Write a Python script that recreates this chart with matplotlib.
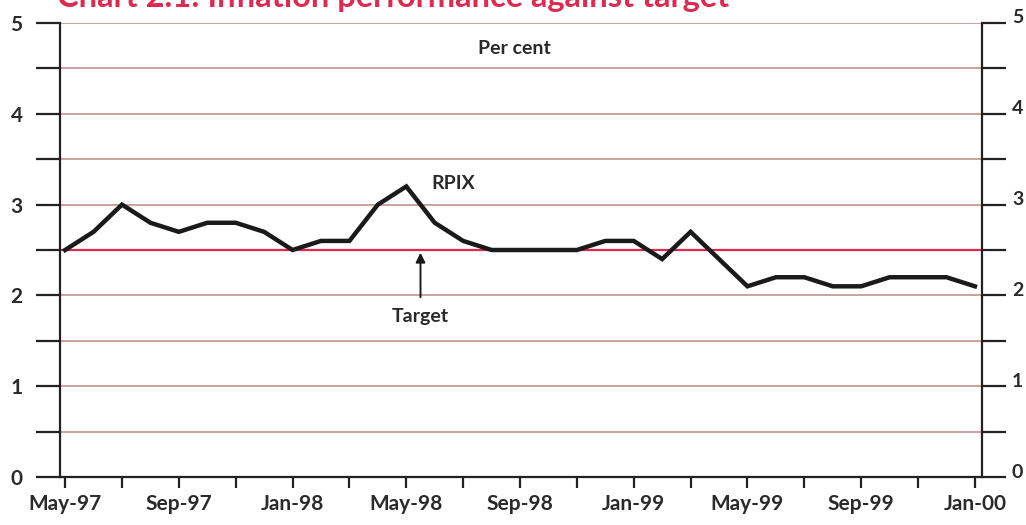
import matplotlib
matplotlib.use("Agg")
import matplotlib.pyplot as plt
import matplotlib.transforms as mtransforms
import numpy as np

months = ["May-97", "Jun-97", "Jul-97", "Aug-97", "Sep-97", "Oct-97", "Nov-97", "Dec-97",
          "Jan-98", "Feb-98", "Mar-98", "Apr-98", "May-98", "Jun-98", "Jul-98", "Aug-98",
          "Sep-98", "Oct-98", "Nov-98", "Dec-98", "Jan-99", "Feb-99", "Mar-99", "Apr-99",
          "May-99", "Jun-99", "Jul-99", "Aug-99", "Sep-99", "Oct-99", "Nov-99", "Dec-99",
          "Jan-00"]
rpix = [2.5, 2.7, 3.0, 2.8, 2.7, 2.8, 2.8, 2.7,
        2.5, 2.6, 2.6, 3.0, 3.2, 2.8, 2.6, 2.5,
        2.5, 2.5, 2.5, 2.6, 2.6, 2.4, 2.7, 2.4,
        2.1, 2.2, 2.2, 2.1, 2.1, 2.2, 2.2, 2.2,
        2.1]
target = 2.5
yticks = [0, 1, 2, 3, 4, 5]

plt.rcParams['font.family'] = ['Lato', 'DejaVu Sans']

W, H = 1026, 525
fig = plt.figure(figsize=(W / 100, H / 100), dpi=100)
ax = fig.add_axes([60 / W, 1 - 477 / H, (982 - 60) / W, (477 - 23) / H])

x = np.arange(len(months))
ax.set_xlim(-0.18, 32.25)
ax.set_ylim(0, 5)

grid_col = "#c9a39d"
red = "#dc2a50"
dark = "#222222"
txt = "#2a2a2a"

for v in np.arange(0.5, 5.01, 0.5):
    if abs(v - target) < 1e-9:
        continue
    ax.axhline(v, color=grid_col, lw=1.4, zorder=1)
ax.axhline(target, color=red, lw=1.6, zorder=2)

ax.plot(x, rpix, color="#1a1a1a", lw=3.2, zorder=3, solid_joinstyle="miter")

ax.spines["top"].set_visible(False)
for s in ["left", "right", "bottom"]:
    ax.spines[s].set_color(dark)
    ax.spines[s].set_linewidth(1.6)

# x ticks
major = np.arange(0, len(months), 4)
minor = np.arange(2, len(months), 4)
ax.set_xticks(major)
ax.set_xticklabels([months[i] for i in major])
ax.set_xticks(minor, minor=True)
ax.tick_params(axis="x", which="both", direction="out", length=8, width=1.6,
               color=dark, pad=4, labelsize=15, labelcolor=txt)
for lab in ax.get_xticklabels():
    lab.set_fontweight("bold")

# y ticks (left labels, ticks on both sides)
yt = np.arange(0, 5.01, 0.5)
ax.set_yticks(yt)
ax.set_yticklabels([str(int(v)) if float(v).is_integer() else "" for v in yt])
ax.tick_params(axis="y", which="both", direction="out", length=17, width=1.6,
               color=dark, labelsize=15, labelcolor=txt, pad=10,
               left=True, right=True, labelleft=True, labelright=False)
for lab in ax.get_yticklabels():
    lab.set_fontweight("bold")

# right-hand labels
rtrans = ax.get_yaxis_transform() + mtransforms.ScaledTranslation(0.30, 0.05, fig.dpi_scale_trans)
for v in yticks:
    ax.text(1.0, v, str(v), transform=rtrans, ha="left", va="center",
            fontsize=14, fontweight="bold", color=txt, clip_on=False)

# annotations
ax.text(15.8, 4.72, "Per cent", ha="center", va="center", fontsize=14,
        fontweight="bold", color=txt)
ax.text(12.9, 3.23, "RPIX", ha="left", va="center", fontsize=14,
        fontweight="bold", color=txt)
ax.text(12.5, 1.77, "Target", ha="center", va="center", fontsize=14,
        fontweight="bold", color=txt)
ax.annotate("", xy=(12.5, 2.47), xytext=(12.5, 1.98),
            arrowprops=dict(arrowstyle="-|>", color="#1a1a1a", lw=1.4,
                            mutation_scale=14, shrinkA=0, shrinkB=0))

fig.text(57 / W, 1 - 7 / H, "Chart 2.1: Inflation performance against target",
         ha="left", va="baseline", fontsize=23.5, fontweight="bold", color=red)

fig.savefig("out.png", dpi=100)
